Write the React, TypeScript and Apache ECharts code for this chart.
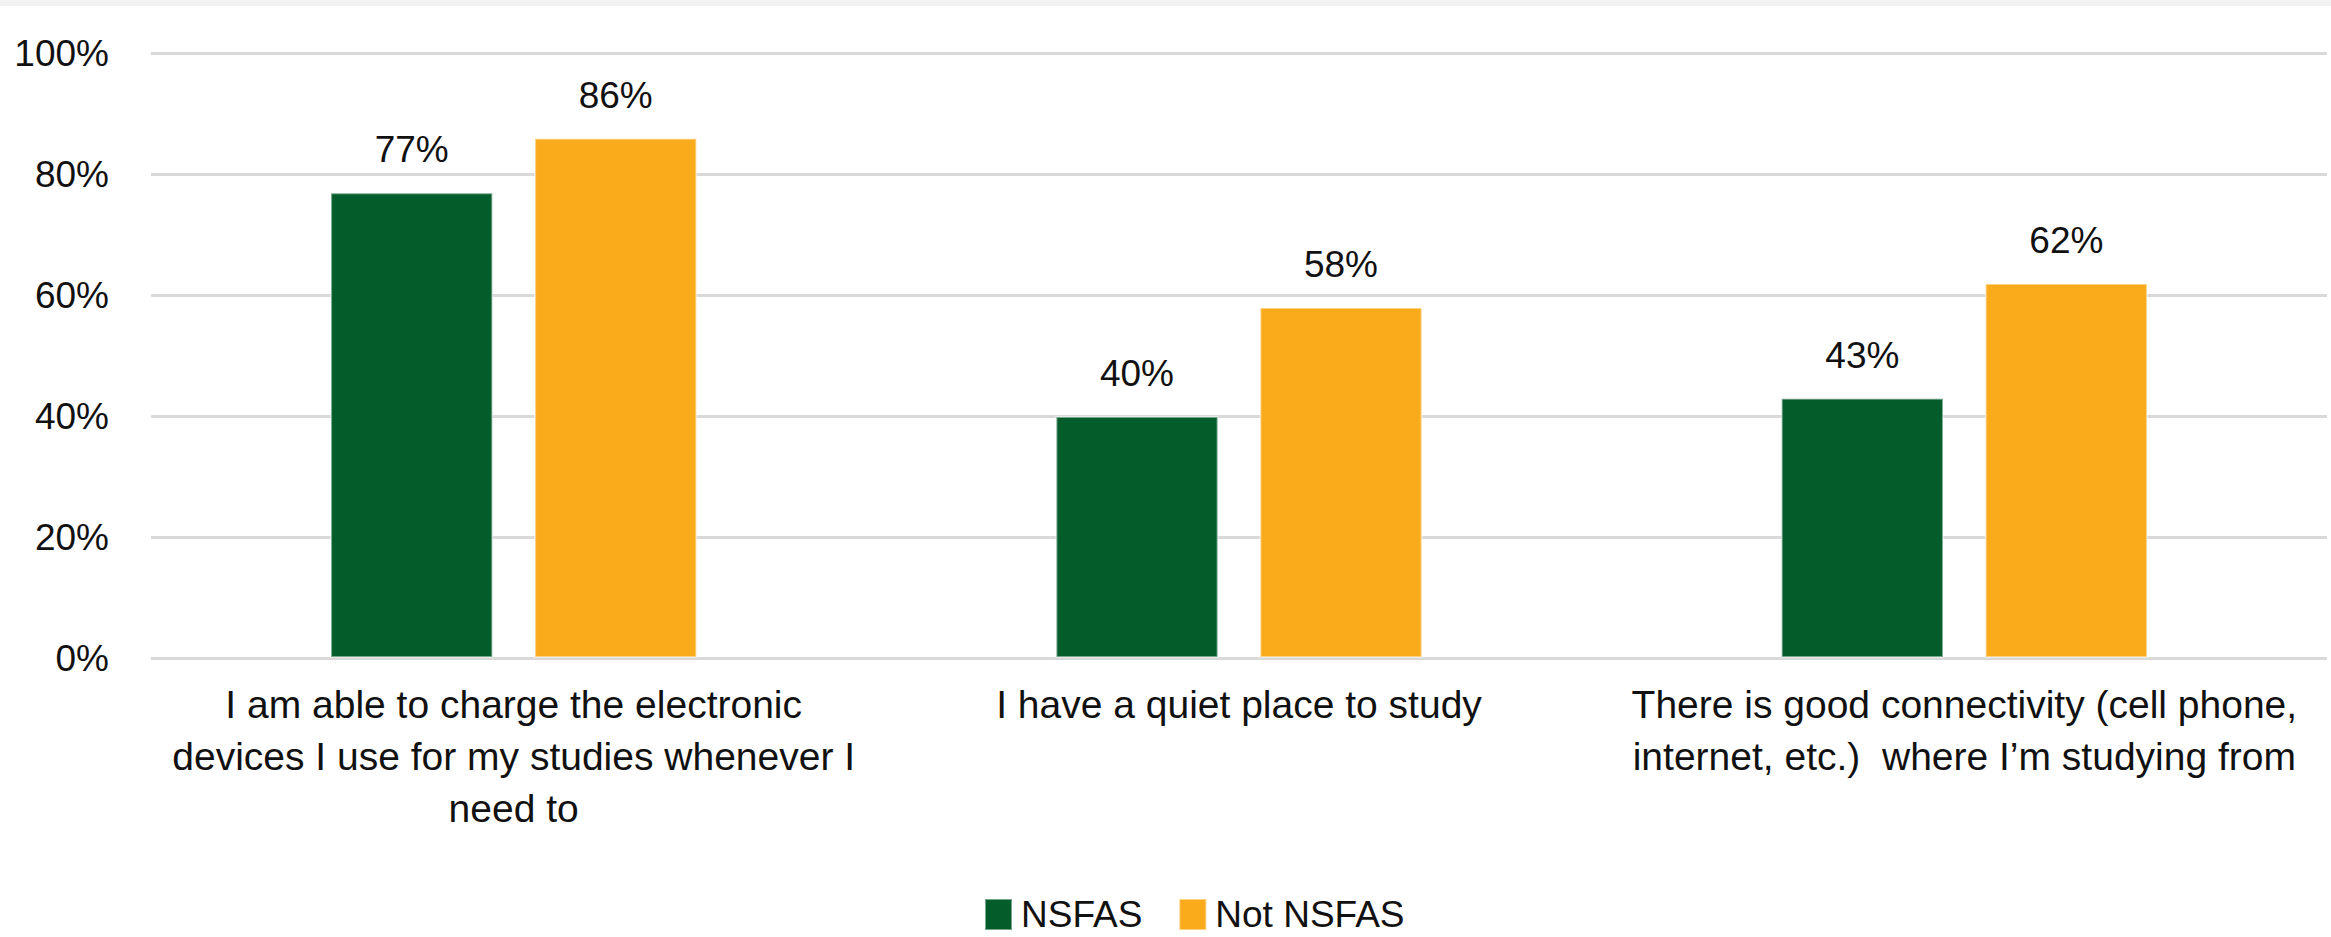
import React, { useEffect, useRef } from "react";
import * as echarts from "echarts";

const categories: string[] = [
  "I am able to charge the electronic\ndevices I use for my studies whenever I\nneed to",
  "I have a quiet place to study",
  "There is good connectivity (cell phone,\ninternet, etc.)  where I’m studying from",
];
const seriesNames: string[] = ["NSFAS", "Not NSFAS"];
const nsfasValues: number[] = [77, 40, 43];
const notNsfasValues: number[] = [86, 58, 62];
const yTicks: number[] = [0, 20, 40, 60, 80, 100];

const GREEN = "#035D2B";
const ORANGE = "#FAAB1C";
const FONT = "'Liberation Sans', Arial, sans-serif";

export default function App() {
  const ref = useRef<HTMLDivElement>(null);

  useEffect(() => {
    if (!ref.current) return;
    const chart = echarts.init(ref.current, undefined, { renderer: "svg" });
    const labelStyle = {
      show: true,
      position: "top" as const,
      distance: 24,
      formatter: "{c}%",
      color: "#111",
      fontSize: 37,
      fontFamily: FONT,
    };
    chart.setOption({
      animation: false,
      backgroundColor: "#fff",
      textStyle: { fontFamily: FONT },
      graphic: [
        {
          type: "rect",
          left: 0,
          top: 0,
          shape: { width: 2331, height: 6 },
          style: { fill: "#f2f2f2" },
          silent: true,
        },
      ],
      grid: { left: 151, right: 4, top: 53, bottom: 279, containLabel: false },
      legend: {
        data: seriesNames,
        left: 979,
        top: 891,
        itemWidth: 27,
        itemHeight: 31,
        itemGap: 36,
        icon: "rect",
        textStyle: { fontSize: 37, color: "#111", fontFamily: FONT, padding: [0, 0, 0, 4] },
      },
      xAxis: {
        type: "category",
        data: categories,
        axisLine: { show: false },
        axisTick: { show: false },
        axisLabel: {
          interval: 0,
          margin: 20,
          color: "#111",
          fontSize: 39,
          lineHeight: 52,
          fontFamily: FONT,
          align: "center",
        },
      },
      yAxis: {
        type: "value",
        min: yTicks[0],
        max: yTicks[yTicks.length - 1],
        interval: yTicks[1] - yTicks[0],
        axisLine: { show: false },
        axisTick: { show: false },
        splitLine: { lineStyle: { color: "#d9d9d9", width: 3 } },
        axisLabel: {
          formatter: "{value}%",
          margin: 42,
          color: "#111",
          fontSize: 37,
          fontFamily: FONT,
          padding: [0, 0, 8, 0],
        },
      },
      series: [
        {
          name: seriesNames[0],
          type: "bar",
          data: nsfasValues,
          barWidth: "22.5%",
          barGap: "25%",
          itemStyle: { color: GREEN, borderColor: "rgba(255,255,255,0.45)", borderWidth: 2 },
          label: labelStyle,
        },
        {
          name: seriesNames[1],
          type: "bar",
          data: notNsfasValues,
          barWidth: "22.5%",
          barGap: "25%",
          itemStyle: { color: ORANGE, borderColor: "rgba(255,255,255,0.45)", borderWidth: 2 },
          label: labelStyle,
        },
      ],
    });
    return () => chart.dispose();
  }, []);

  return (
    <div
      ref={ref}
      style={{ position: "absolute", left: 0, top: 0, width: 2331, height: 937 }}
    />
  );
}
